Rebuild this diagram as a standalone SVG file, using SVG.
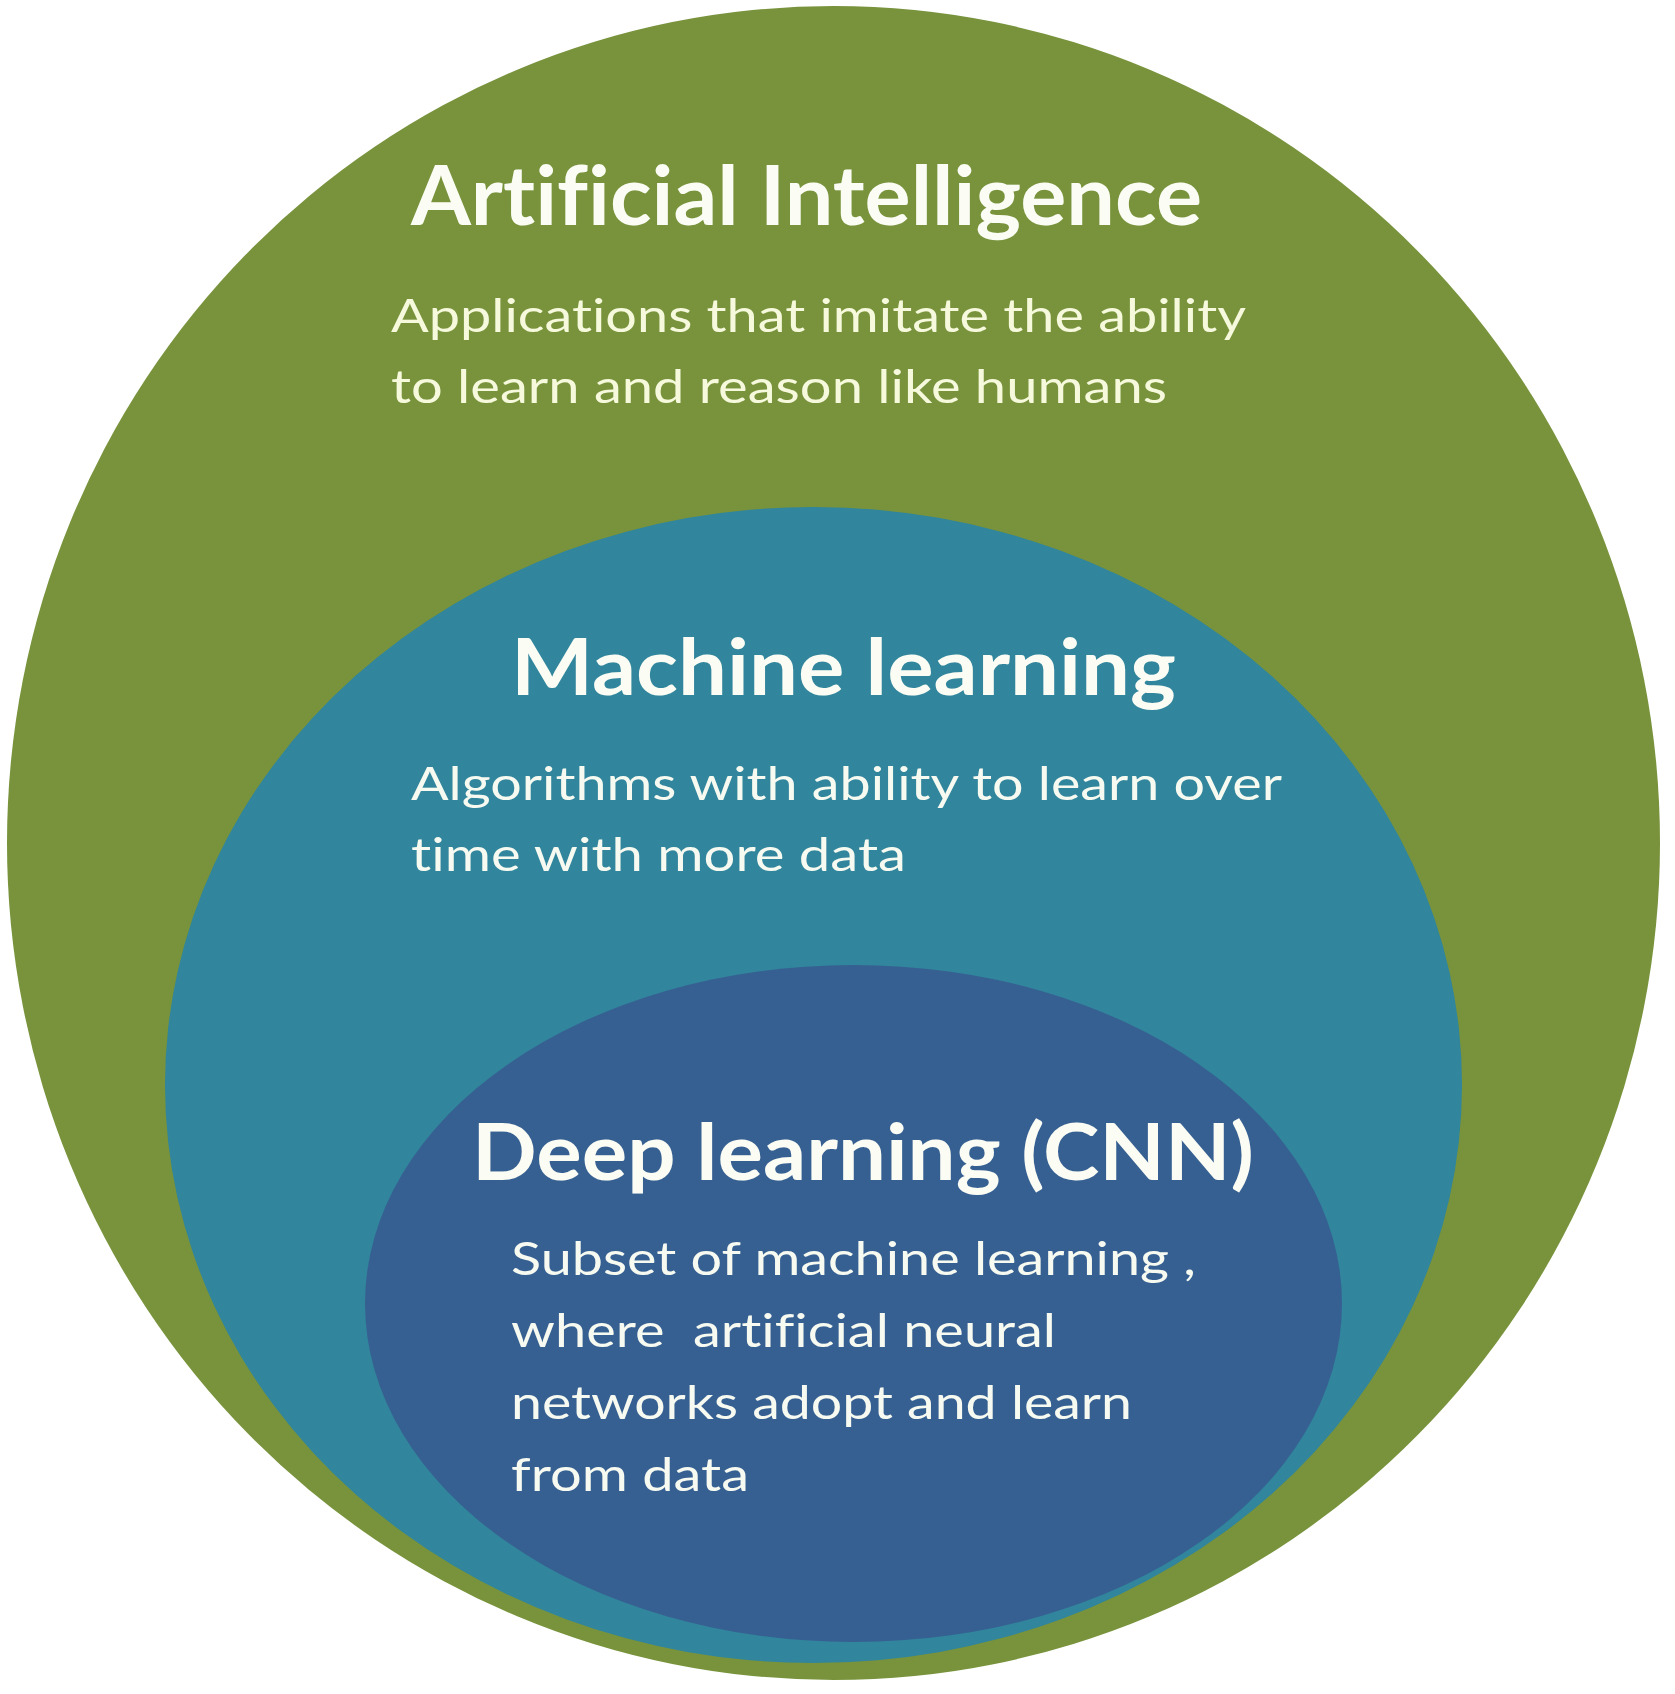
<svg xmlns="http://www.w3.org/2000/svg" width="1675" height="1694" viewBox="0 0 1675 1694">
<style>
text{font-variant-ligatures:none;font-feature-settings:"liga" 0,"clig" 0}
.t{font-family:Lato,"Open Sans","Liberation Sans",sans-serif;font-weight:700;fill:#FBFDF4}
.d{font-family:Lato,"Open Sans","Liberation Sans",sans-serif;font-weight:400;fill:#F7FAF0}
.ai{fill:#F6F9DC}
</style>
<rect width="1675" height="1694" fill="#FFFFFF"/>
<g id="ai">
<ellipse cx="833.5" cy="843" rx="826.5" ry="837" fill="#78933C"/>
<text class="t" x="411" y="225" font-size="82" textLength="791" lengthAdjust="spacingAndGlyphs">Artificial Intelligence</text>
<text class="d ai" x="391" y="332" font-size="47" textLength="855" lengthAdjust="spacingAndGlyphs">Applications that imitate the ability</text>
<text class="d ai" x="391" y="403" font-size="47" textLength="776" lengthAdjust="spacingAndGlyphs">to learn and reason like humans</text>
</g>
<g id="ml">
<ellipse cx="813.5" cy="1085" rx="648.5" ry="578" fill="#31859C"/>
<text class="t" x="511" y="695" font-size="78" textLength="665" lengthAdjust="spacingAndGlyphs">Machine learning</text>
<text class="d" x="411" y="800" font-size="47" textLength="871" lengthAdjust="spacingAndGlyphs">Algorithms with ability to learn over</text>
<text class="d" x="411" y="871" font-size="47" textLength="495" lengthAdjust="spacingAndGlyphs">time with more data</text>
</g>
<g id="dl">
<ellipse cx="853.5" cy="1303.5" rx="488.5" ry="338.5" fill="#376092"/>
<text class="t" x="472" y="1180" font-size="78" textLength="782" lengthAdjust="spacingAndGlyphs">Deep learning (CNN)</text>
<text class="d" x="511" y="1275" font-size="47" textLength="685" lengthAdjust="spacingAndGlyphs">Subset of machine learning ,</text>
<text class="d" x="511" y="1347" font-size="47" textLength="545" lengthAdjust="spacingAndGlyphs" xml:space="preserve">where  artificial neural</text>
<text class="d" x="511" y="1419" font-size="47" textLength="621" lengthAdjust="spacingAndGlyphs">networks adopt and learn</text>
<text class="d" x="511" y="1491" font-size="47" textLength="238" lengthAdjust="spacingAndGlyphs">from data</text>
</g>
<g id="connectors"/>
</svg>
